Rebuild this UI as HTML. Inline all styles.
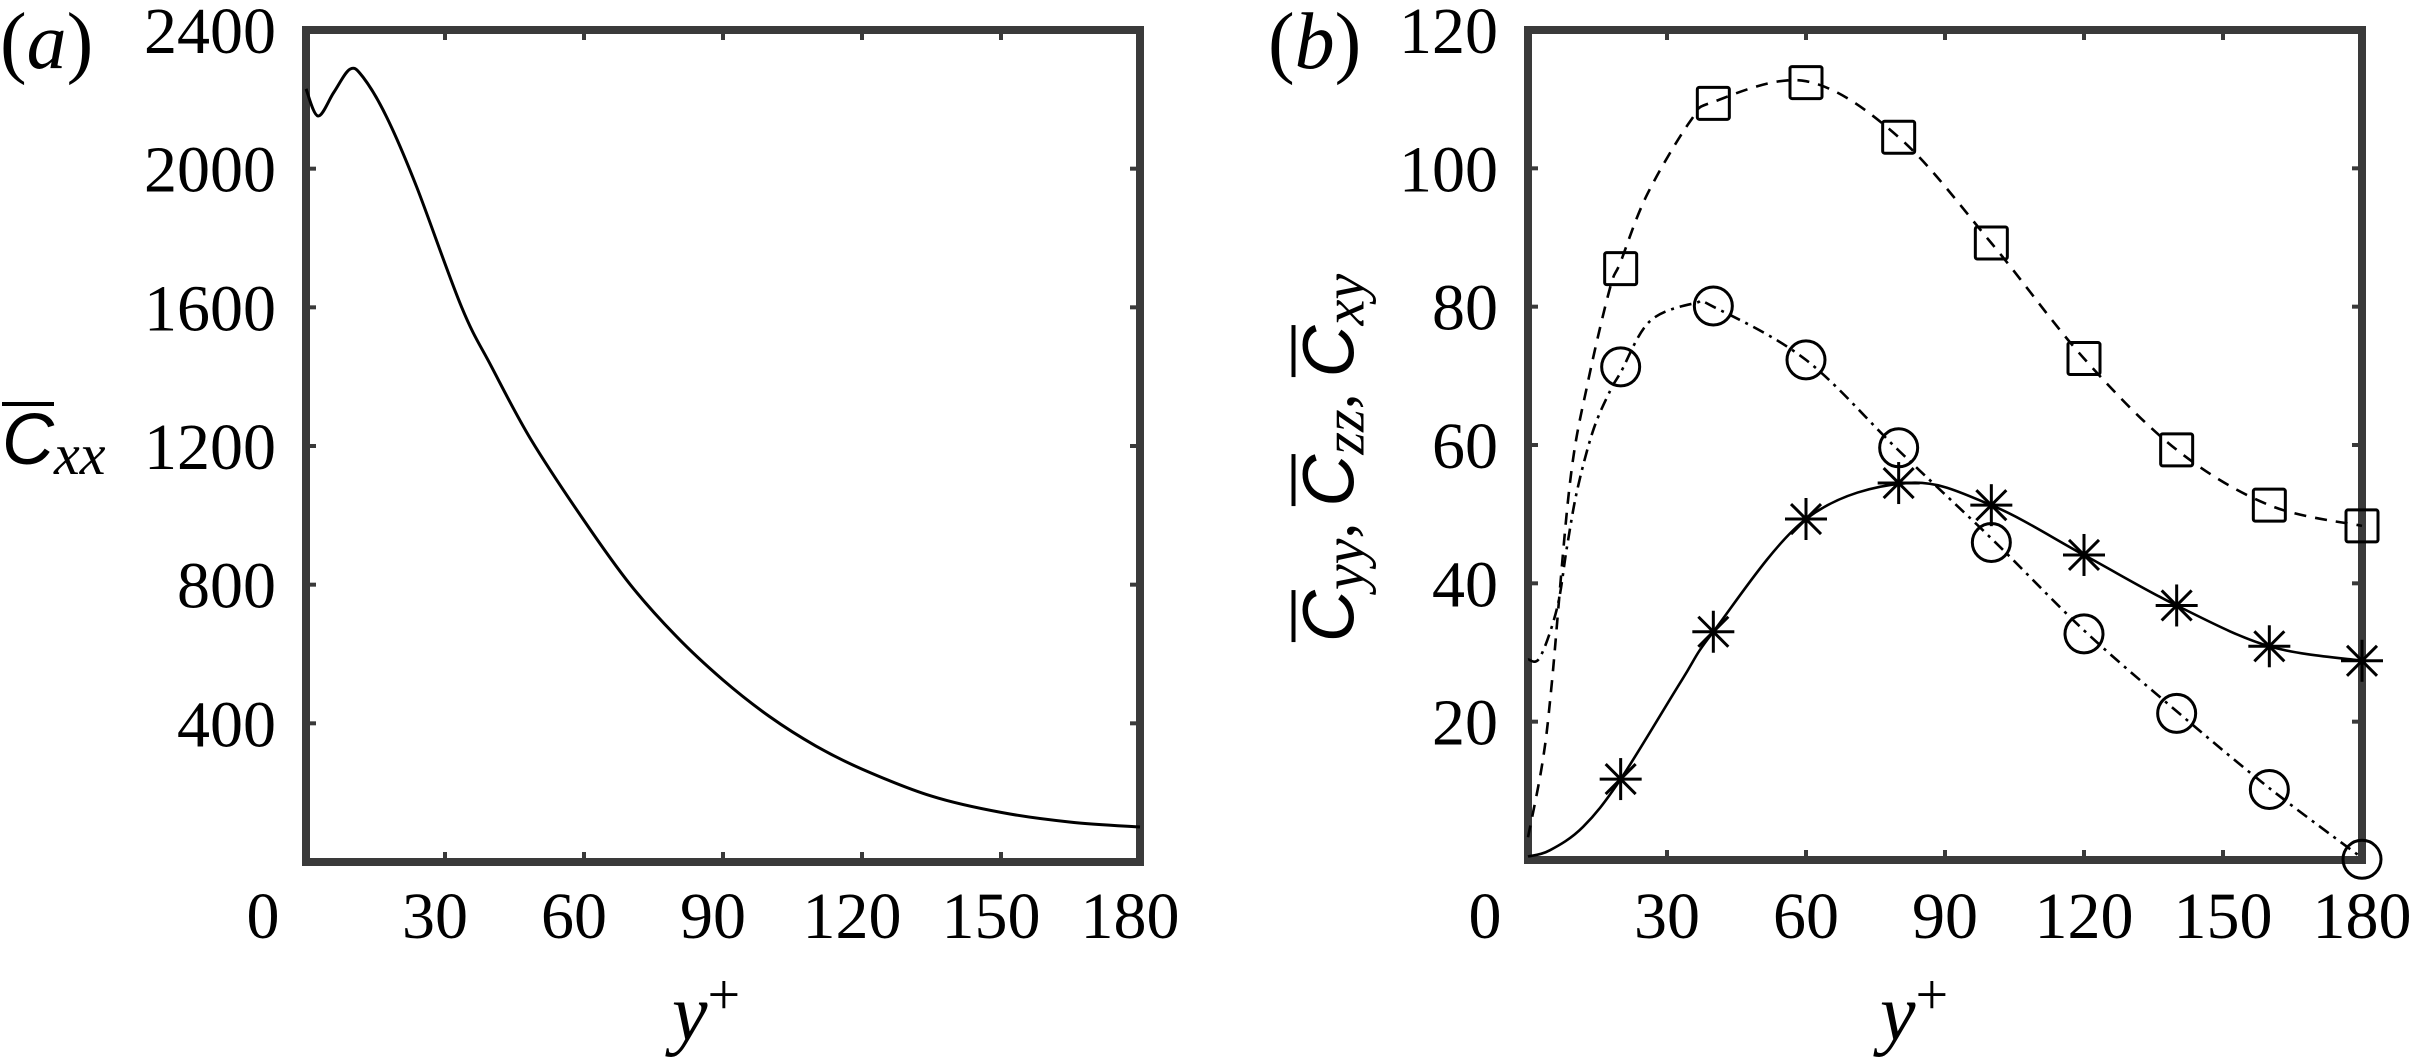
<!DOCTYPE html>
<html><head><meta charset="utf-8"><style>
html,body{margin:0;padding:0;background:#fff;}
#wrap{position:relative;width:2413px;height:1062px;overflow:hidden;background:#fff;}
svg{position:absolute;left:0;top:0;}
.t{font-family:"Liberation Serif","Times New Roman",serif;fill:#000;}
.lab{position:absolute;font-family:"Liberation Serif","Times New Roman",serif;color:#000;white-space:nowrap;line-height:1;}
.ob{display:inline-block;font-family:"Liberation Sans",sans-serif;font-style:italic;font-size:72px;border-top:4px solid #000;line-height:0.78;padding-top:6px;}
.sub{font-family:"Liberation Serif","Times New Roman",serif;font-style:italic;font-size:58px;position:relative;top:10px;}
</style></head><body>
<div id="wrap">
<svg id="svg" width="2413" height="1062"></svg>
<div class="lab" style="left:2px;top:402px;"><span class="ob">C</span><span class="sub">xx</span></div>
<div class="lab" style="left:1328px;top:458px;transform:translate(-50%,-50%) rotate(-90deg);"><span class="ob">C</span><span class="sub">yy</span><span style="font-size:64px">, </span><span class="ob">C</span><span class="sub">zz</span><span style="font-size:64px">, </span><span class="ob">C</span><span class="sub">xy</span></div>
</div>
<script>
// Panel (a) data
const aX = [0,2.6,6,9.5,12.3,17.4,23.9,33.6,40,48.5,60,70,80,90,100,110,120,135,150,165,180];
const aY = [2230,2152,2220,2287,2264,2149,1947,1600,1430,1220,985,800,650,525,420,335,268,190,143,115,101];
const aYTicks = [400,800,1200,1600,2000,2400];
const aYTickLabels = ["400","800","1200","1600","2000","2400"];
const xTicks = [0,30,60,90,120,150,180];
const xTickLabels = ["0","30","60","90","120","150","180"];
// Panel (b) curves
const sqCurveX = [0,3.2,5.2,9.1,13,17.7,20,25.7,35,40,60,80,100,120,140,160,180];
const sqCurveY = [3.3,14.4,26,54.8,69.3,82.7,86.5,96.2,106.8,109.6,112.6,104.5,89.2,72.5,59.3,51.3,48.3];
const ciCurveX = [0,2.6,6.3,8.4,10.6,14,17.7,20,26.3,36,40,60,80,100,120,140,160,180];
const ciCurveY = [29,29.3,36.5,45.2,53.4,62,67.8,70.5,77.9,80.5,80,72.3,59.2,46.5,33.2,21.5,10.4,0.3];
const stCurveX = [0,4.7,11.9,20,33.2,40,60,82,100,120,140,160,180];
const stCurveY = [0.5,1.4,4.8,11.7,26,33,49.3,54.5,51.3,44.1,36.8,30.9,28.8];
// Panel (b) markers
const mX = [20,40,60,80,100,120,140,160,180];
const sqMarks = [85.5,109.4,112.4,104.5,89.2,72.5,59.3,51.3,48.3];
const ciMarks = [71.3,80.1,72.3,59.6,45.9,32.7,21.2,10.2,0.1];
const stMarks = [11.7,33,49.3,54.5,51.3,44.1,36.8,30.9,28.8];
const bYTicks = [0,20,40,60,80,100,120];
const bYTickLabels = ["0","20","40","60","80","100","120"];

const NS="http://www.w3.org/2000/svg";
const svg=document.getElementById('svg');
function mk(tag,attrs,parent){const e=document.createElementNS(NS,tag);for(const k in attrs)e.setAttribute(k,attrs[k]);(parent||svg).appendChild(e);return e;}
const PA={x0:306,x1:1140,y0:862,y1:30,ymax:2400};
const PB={x0:1528,x1:2362,y0:860,y1:30,ymax:120};
function sx(p,v){return p.x0+v/180*(p.x1-p.x0);}
function sy(p,v){return p.y0-v/p.ymax*(p.y0-p.y1);}
function smooth(p,xs,ys){
  const pts=xs.map((x,i)=>[sx(p,x),sy(p,ys[i])]);
  let d='M'+pts[0][0].toFixed(1)+','+pts[0][1].toFixed(1);
  for(let i=0;i<pts.length-1;i++){
    const p0=pts[Math.max(0,i-1)],p1=pts[i],p2=pts[i+1],p3=pts[Math.min(pts.length-1,i+2)];
    const c1=[p1[0]+(p2[0]-p0[0])/6,p1[1]+(p2[1]-p0[1])/6];
    const c2=[p2[0]-(p3[0]-p1[0])/6,p2[1]-(p3[1]-p1[1])/6];
    d+=' C'+c1[0].toFixed(1)+','+c1[1].toFixed(1)+' '+c2[0].toFixed(1)+','+c2[1].toFixed(1)+' '+p2[0].toFixed(1)+','+p2[1].toFixed(1);
  }
  return d;
}
function frame(p,name,yt,ytl,xOff){
  const g=mk('g',{});
  
  
  xTicks.forEach((v,i)=>{
    const x=sx(p,v);
    const t1=mk('line',{x1:x,x2:x,y1:p.y0,y2:p.y0-10,stroke:'#3a3a3a','stroke-width':4},g);
    
    
    const t2=mk('line',{x1:x,x2:x,y1:p.y1,y2:p.y1+10,stroke:'#3a3a3a','stroke-width':4},g);
    
    
    const tx=mk('text',{x:x+(i===0?-43:xOff),y:938,'text-anchor':'middle','font-size':66,class:'t'},g);
    tx.textContent=xTickLabels[i];
    
    
  });
  yt.forEach((v,i)=>{
    const y=sy(p,v);
    const t1=mk('line',{x1:p.x0,x2:p.x0+10,y1:y,y2:y,stroke:'#3a3a3a','stroke-width':4},g);
    
    
    const t2=mk('line',{x1:p.x1,x2:p.x1-10,y1:y,y2:y,stroke:'#3a3a3a','stroke-width':4},g);
    
    
    if(ytl[i]==="0")return;
    const tx=mk('text',{x:p.x0-30,y:y+23,'text-anchor':'end','font-size':66,class:'t'},g);
    tx.textContent=ytl[i];
    
    
  });
  const r=mk('rect',{x:p.x0,y:p.y1,width:p.x1-p.x0,height:p.y0-p.y1,fill:'none',stroke:'#3a3a3a','stroke-width':8},g);
  
  
}
frame(PA,'panel-a',aYTicks,aYTickLabels,-10);
frame(PB,'panel-b',bYTicks,bYTickLabels,0);

const ca=mk('path',{d:smooth(PA,aX,aY),fill:'none',stroke:'#000','stroke-width':3});



const l1=mk('path',{d:smooth(PB,sqCurveX,sqCurveY),fill:'none',stroke:'#000','stroke-width':2.6,'stroke-dasharray':'12 9'});


const l2=mk('path',{d:smooth(PB,ciCurveX,ciCurveY),fill:'none',stroke:'#000','stroke-width':2.6,'stroke-dasharray':'12 6 3 6'});


const l3=mk('path',{d:smooth(PB,stCurveX,stCurveY),fill:'none',stroke:'#000','stroke-width':2.6});



mX.forEach((xv,i)=>{
  const x=sx(PB,xv);
  let y=sy(PB,sqMarks[i]);
  const s=mk('rect',{x:x-16,y:y-16,width:32,height:32,rx:2,fill:'none',stroke:'#000','stroke-width':3});
  
  
  y=sy(PB,ciMarks[i]);
  const c=mk('circle',{cx:x,cy:y,r:19,fill:'none',stroke:'#000','stroke-width':3});
  
  
  y=sy(PB,stMarks[i]);
  const g=mk('g',{stroke:'#000','stroke-width':3});
  
  
  const R=21,Dd=15;
  mk('line',{x1:x-R,x2:x+R,y1:y,y2:y},g);
  mk('line',{x1:x,x2:x,y1:y-R,y2:y+R},g);
  mk('line',{x1:x-Dd,x2:x+Dd,y1:y-Dd,y2:y+Dd},g);
  mk('line',{x1:x-Dd,x2:x+Dd,y1:y+Dd,y2:y-Dd},g);
});

function label(x,y,html,name,size){
  const t=mk('text',{x:x,y:y,'font-size':size,class:'t'});
  t.innerHTML=html;
  
  
}
label(0,68,'(<tspan font-style="italic">a</tspan>)','panel-a-label',80);
label(1268,68,'(<tspan font-style="italic">b</tspan>)','panel-b-label',80);
label(672,1040,'<tspan font-style="italic">y</tspan><tspan font-size="58" dy="-26">+</tspan>','panel-a-x-axis-title',80);
label(1880,1040,'<tspan font-style="italic">y</tspan><tspan font-size="58" dy="-26">+</tspan>','panel-b-x-axis-title',80);
</script>
</body></html>
